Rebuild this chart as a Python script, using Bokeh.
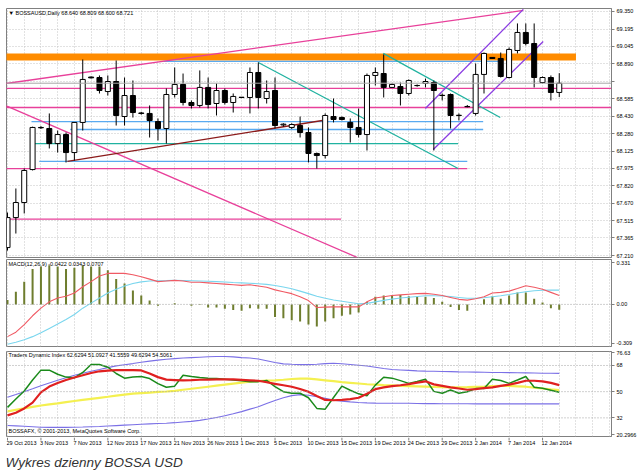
from bokeh.plotting import figure
from bokeh.layouts import column
from bokeh.models import (ColumnDataSource, LinearAxis, FixedTicker, Label, Range1d,
                          Span, Grid)
from bokeh.core.properties import value
from bokeh.embed import file_html
from bokeh.resources import INLINE

# ---------------- data ----------------
opens = [67.280, 67.543, 67.675, 67.964, 68.333, 68.324, 68.192, 68.271, 68.113, 68.377,
         68.775, 68.771, 68.648, 68.736, 68.429, 68.613, 68.460, 68.456, 68.385, 68.324,
         68.622, 68.710, 68.552, 68.526, 68.684, 68.543, 68.657, 68.552, 68.596, 68.596,
         68.815, 68.587, 68.657, 68.355, 68.333, 68.350, 68.289, 68.105, 68.087, 68.429,
         68.420, 68.377, 68.333, 68.271, 68.789, 68.806, 68.684, 68.692, 68.631, 68.700,
         68.719, 68.727, 68.615, 68.622, 68.438, 68.515, 68.456, 68.798, 68.947, 68.938,
         68.771, 69.008, 69.166, 69.069, 68.727, 68.771, 68.640]
highs = [67.587, 67.798, 67.973, 68.340, 68.345, 68.456, 68.306, 68.289, 68.377, 68.929,
         68.780, 68.789, 68.789, 68.920, 68.771, 68.745, 68.470, 68.526, 68.412, 68.675,
         68.859, 68.806, 68.570, 68.833, 68.771, 68.719, 68.675, 68.631, 68.600, 68.859,
         68.903, 68.745, 68.771, 68.370, 68.370, 68.429, 68.333, 68.113, 68.456, 68.587,
         68.430, 68.412, 68.499, 68.806, 68.859, 68.973, 68.720, 68.727, 68.754, 68.710,
         68.762, 68.745, 68.631, 68.631, 68.456, 68.530, 68.894, 68.990, 68.950, 68.990,
         69.034, 69.245, 69.245, 69.245, 68.780, 68.789, 68.809]
lows = [67.254, 67.403, 67.579, 67.956, 68.320, 68.149, 68.113, 68.026, 68.043, 68.306,
        68.762, 68.631, 68.613, 68.350, 68.350, 68.420, 68.445, 68.245, 68.219, 68.192,
        68.596, 68.526, 68.499, 68.508, 68.499, 68.438, 68.534, 68.464, 68.590, 68.456,
        68.499, 68.543, 68.324, 68.340, 68.320, 68.245, 68.026, 67.973, 68.061, 68.377,
        68.394, 68.201, 68.245, 68.131, 68.701, 68.596, 68.680, 68.526, 68.613, 68.690,
        68.684, 68.131, 68.570, 68.324, 68.394, 68.510, 68.438, 68.631, 68.935, 68.771,
        68.762, 68.982, 69.052, 68.684, 68.719, 68.570, 68.600]
closes = [67.543, 67.675, 67.956, 68.333, 68.330, 68.192, 68.271, 68.113, 68.377, 68.754,
          68.768, 68.657, 68.736, 68.438, 68.613, 68.464, 68.456, 68.394, 68.324, 68.622,
          68.710, 68.552, 68.526, 68.684, 68.534, 68.657, 68.552, 68.605, 68.598, 68.815,
          68.596, 68.648, 68.350, 68.362, 68.359, 68.289, 68.105, 68.087, 68.438, 68.403,
          68.403, 68.333, 68.271, 68.789, 68.815, 68.684, 68.710, 68.631, 68.745, 68.701,
          68.736, 68.657, 68.613, 68.438, 68.440, 68.517, 68.798, 68.982, 68.938, 68.780,
          69.017, 69.166, 69.069, 68.771, 68.771, 68.640, 68.721]

macd_hist = [0.035, 0.10, 0.18, 0.28, 0.30, 0.31, 0.30, 0.28, 0.29, 0.31,
             0.30, 0.30, 0.27, 0.20, 0.165, 0.11, 0.07, 0.03, -0.01, 0.0,
             0.01, 0.0, -0.01, -0.005, -0.025, -0.025, -0.035, -0.045, -0.05, -0.03,
             -0.035, -0.035, -0.10, -0.11, -0.125, -0.135, -0.16, -0.175, -0.135, -0.11,
             -0.09, -0.08, -0.065, 0.02, 0.06, 0.07, 0.075, 0.075, 0.065, 0.06,
             0.06, 0.05, 0.02, -0.02, -0.045, -0.05, 0.0, 0.04, 0.065, 0.045,
             0.07, 0.095, 0.095, 0.045, 0.015, -0.03, -0.0422]
macd_red = [-0.255, -0.22, -0.16, -0.09, -0.03, 0.02, 0.05, 0.065, 0.09, 0.14,
            0.18, 0.225, 0.245, 0.245, 0.245, 0.235, 0.218, 0.20, 0.18, 0.185,
            0.19, 0.185, 0.175, 0.175, 0.17, 0.165, 0.16, 0.155, 0.15, 0.155,
            0.145, 0.135, 0.115, 0.10, 0.085, 0.06, 0.03, -0.025, -0.022, -0.02,
            -0.02, -0.02, -0.02, 0.02, 0.05, 0.06, 0.07, 0.075, 0.08, 0.085,
            0.087, 0.08, 0.07, 0.055, 0.04, 0.034, 0.045, 0.06, 0.09, 0.095,
            0.105, 0.125, 0.147, 0.135, 0.12, 0.095, 0.07]
macd_cyan = [-0.315, -0.30, -0.28, -0.255, -0.225, -0.19, -0.155, -0.12, -0.08, -0.03,
             0.01, 0.05, 0.09, 0.12, 0.145, 0.165, 0.178, 0.185, 0.187, 0.188,
             0.19, 0.189, 0.187, 0.185, 0.183, 0.18, 0.177, 0.173, 0.17, 0.167,
             0.163, 0.158, 0.15, 0.138, 0.123, 0.105, 0.085, 0.065, 0.048, 0.035,
             0.025, 0.015, 0.005, 0.008, 0.02, 0.032, 0.042, 0.05, 0.057, 0.063,
             0.068, 0.068, 0.066, 0.062, 0.055, 0.048, 0.048, 0.052, 0.06, 0.068,
             0.078, 0.09, 0.10, 0.108, 0.112, 0.113, 0.113]

tdi_upper = [46.1, 48.0, 50.0, 52.0, 54.1, 56.0, 57.8, 59.5, 61.3, 62.7,
             64.0, 65.2, 66.5, 67.7, 68.5, 69.3, 70.2, 71.0, 71.7, 72.3,
             72.7, 73.1, 73.4, 73.7, 74.0, 74.2, 74.2, 73.9, 73.4, 73.1,
             72.5, 71.3, 70.0, 69.1, 68.8, 68.6, 68.6, 68.8, 69.3, 69.5,
             69.2, 68.7, 68.2, 67.6, 66.8, 65.9, 65.2, 64.9, 64.6, 64.3,
             64.1, 64.0, 63.9, 63.8, 63.6, 63.5, 63.4, 63.3, 63.2, 63.2,
             63.1, 63.0, 62.9, 62.8, 62.7, 62.7, 62.6]
tdi_lower = [26.8, 26.5, 26.2, 25.9, 25.6, 25.5, 25.5, 25.5, 25.6, 25.7,
             25.9, 26.1, 26.4, 26.7, 27.0, 27.3, 27.6, 27.9, 28.1, 28.3,
             28.7, 29.2, 29.6, 30.3, 31.2, 32.3, 33.5, 34.8, 36.3, 38.0,
             39.6, 41.8, 44.0, 45.8, 47.3, 48.0, 47.5, 46.6, 45.4, 44.2,
             43.5, 43.0, 42.6, 42.3, 42.1, 42.0, 42.0, 42.0, 42.0, 41.9,
             41.8, 41.8, 41.7, 41.7, 41.7, 41.7, 41.6, 41.6, 41.6, 41.6,
             41.6, 41.6, 41.6, 41.6, 41.6, 41.6, 41.6]
tdi_yellow = [36.5, 37.5, 38.5, 39.5, 40.5, 41.3, 42.0, 42.8, 43.6, 44.4,
              45.1, 45.8, 46.5, 47.3, 48.0, 48.6, 49.0, 49.4, 49.8, 50.1,
              50.6, 51.3, 52.0, 52.7, 53.4, 54.1, 54.8, 55.5, 56.2, 56.9,
              57.3, 57.6, 57.8, 58.2, 58.7, 59.0, 58.9, 58.4, 57.8, 57.2,
              56.6, 56.1, 55.6, 55.1, 54.8, 54.5, 54.3, 54.0, 53.8, 53.6,
              53.4, 53.2, 53.1, 53.0, 53.0, 53.1, 53.3, 53.5, 53.8, 54.0,
              54.0, 53.7, 53.4, 52.8, 52.2, 51.6, 51.1]
tdi_red = [33.7, 35.5, 38.5, 42.5, 49.5, 53.5, 56.0, 58.0, 59.7, 61.3,
           62.8, 64.0, 64.5, 64.8, 64.8, 64.8, 64.6, 62.5, 60.0, 58.3,
           58.0, 57.7, 57.9, 58.2, 58.3, 58.4, 58.5, 58.4, 58.1, 57.8,
           57.5, 56.5, 55.4, 54.4, 53.4, 51.8, 49.9, 47.0, 44.3, 44.1,
           44.4, 44.9, 45.8, 48.6, 51.7, 52.9, 53.8, 54.4, 55.2, 56.2,
           57.1, 55.0, 54.0, 53.0, 52.2, 51.3, 51.8, 52.5, 53.0, 54.0,
           54.8, 56.0, 57.5, 57.5, 57.1, 56.0, 54.5]
tdi_green = [39.2, 45.0, 50.5, 58.0, 64.8, 64.8, 62.0, 60.0, 59.5, 63.2,
             68.7, 68.7, 66.8, 62.5, 59.3, 60.0, 60.4, 59.0, 55.5, 53.0,
             53.8, 61.3, 60.5, 59.8, 59.3, 59.0, 58.5, 58.0, 57.5, 56.8,
             56.9, 57.7, 53.5, 50.0, 48.9, 48.9, 45.8, 38.5, 38.0, 46.0,
             53.8, 51.0, 48.5, 47.2, 54.5, 59.9, 59.3, 57.6, 55.7, 57.0,
             58.5, 50.2, 48.9, 51.1, 48.9, 50.0, 52.1, 52.1, 58.5, 57.7,
             55.7, 58.0, 60.4, 53.0, 52.3, 51.0, 49.6]

date_ticks = [0, 4, 8, 12, 16, 20, 24, 28, 32, 36, 40, 44, 48, 52, 56, 60, 64]
date_labels = ["29 Oct 2013", "3 Nov 2013", "7 Nov 2013", "12 Nov 2013", "17 Nov 2013",
               "21 Nov 2013", "26 Nov 2013", "1 Dec 2013", "5 Dec 2013", "10 Dec 2013",
               "15 Dec 2013", "19 Dec 2013", "24 Dec 2013", "29 Dec 2013", "2 Jan 2014",
               "7 Jan 2014", "12 Jan 2014"]
price_ticks = [69.350, 69.195, 69.045, 68.890, 68.740, 68.585, 68.430, 68.280, 68.125,
               67.975, 67.820, 67.670, 67.515, 67.365, 67.210]
price_labels = ["69.350", "69.195", "69.045", "68.890", "", "68.585", "68.430", "68.280",
                "68.125", "67.975", "67.820", "67.670", "67.515", "67.365", "67.210"]
macd_ticks = [0.331, 0.0, -0.309]
macd_labels = ["0.331", "0.00", "-0.309"]
tdi_ticks = [76.63, 68, 50, 32, 20.2966]
tdi_labels = ["76.63", "68", "50", "32", "20.2966"]
tdi_levels = [68, 50, 32]
last_price = 68.721
caption = "Wykres dzienny BOSSA USD"

# drawn chart objects (bar index, price)
pink_trends = [(-0.24, 68.718, 61.7, 69.359), (-0.24, 68.526, 41.85, 67.193)]
pink_hlines = [(68.675, -0.3, 72.4), (68.508, -0.3, 72.4), (67.53, -0.3, 39.9), (67.973, -0.3, 55.0)]
blue_hlines = [(68.385, 2.87, 56.9), (68.315, 7.5, 56.9), (68.035, 3.8, 55.0), (68.912, 18.65, 58.9)]
teal_hlines = [(68.192, 2.87, 53.9)]
teal_trends = [(30.0, 68.903, 53.9, 67.973), (44.95, 68.982, 58.94, 68.420)]
maroon_trends = [(7.17, 68.035, 37.66, 68.394)]
purple_trends = [(49.98, 68.499, 61.7, 69.368), (50.93, 68.140, 64.08, 69.087)]
orange_band = (68.920, 68.982, -0.3, 68.0)

# ---------------- helpers ----------------
FONT = "Liberation Sans"
FS = "5.5px"
GRID_C = "#c4c4c4"
xr = Range1d(-0.12, 72.25)
idx = list(range(len(opens)))


def make_fig(h, y0, y1, top, bottom, outline="#808080"):
    p = figure(width=640, height=h, x_range=xr, y_range=Range1d(y0, y1),
               output_backend="svg", toolbar_location=None,
               x_axis_location=None, y_axis_location=None,
               min_border_left=6, min_border_right=29,
               min_border_top=top, min_border_bottom=bottom,
               background_fill_color="white", border_fill_color="white",
               outline_line_color=outline, outline_line_width=1)
    for g in p.grid:
        g.visible = False
    return p


def vgrid(p):
    p.add_layout(Grid(dimension=0, ticker=FixedTicker(ticks=list(range(0, 73, 2))),
                      grid_line_color=GRID_C, grid_line_dash="1 2"))


def right_axis(p, ticks, labels):
    ax = LinearAxis(ticker=FixedTicker(ticks=ticks),
                    major_label_overrides={t: l for t, l in zip(ticks, labels)},
                    major_label_text_font=FONT, major_label_text_font_size=FS,
                    major_label_text_color="#000000", major_label_standoff=2,
                    major_tick_out=3, major_tick_in=0, minor_tick_out=0, minor_tick_in=0,
                    axis_line_color="#808080", major_tick_line_color="#808080")
    p.add_layout(ax, "right")


def header(p, x, y, text):
    p.add_layout(Label(x=x, y=y, text=text, x_offset=2, text_baseline="top",
                       text_font=FONT, text_font_size=FS, text_color="#000000"))


# ---------------- main price panel ----------------
p1 = make_fig(258, 67.193, 69.376, 8, 1)
vgrid(p1)
p1.add_layout(Grid(dimension=1, ticker=FixedTicker(ticks=price_ticks),
                   grid_line_color=GRID_C, grid_line_dash="1 2"))
right_axis(p1, price_ticks, price_labels)

p1.quad(left=[orange_band[2]], right=[orange_band[3]], bottom=[orange_band[0]],
        top=[orange_band[1]], fill_color="#ff8c00", line_color=None)


def hsegs(p, lst, color, width=1.3):
    p.segment(x0=[s[1] for s in lst], y0=[s[0] for s in lst],
              x1=[s[2] for s in lst], y1=[s[0] for s in lst],
              line_color=color, line_width=width)


def tsegs(p, lst, color, width=1.3):
    p.segment(x0=[s[0] for s in lst], y0=[s[1] for s in lst],
              x1=[s[2] for s in lst], y1=[s[3] for s in lst],
              line_color=color, line_width=width)


hsegs(p1, blue_hlines, "#5aaaf0")
hsegs(p1, teal_hlines, "#20b2a0")
hsegs(p1, pink_hlines, "#e8409a")
tsegs(p1, pink_trends, "#e8409a")
tsegs(p1, teal_trends, "#20b2a0")
tsegs(p1, maroon_trends, "#8b1a1a")
tsegs(p1, purple_trends, "#8a3be2")
p1.add_layout(Span(location=last_price, dimension="width", line_color="#a8a8a8", line_width=1))

src = ColumnDataSource(dict(
    x=idx, h=highs, l=lows,
    top=[max(o, c) for o, c in zip(opens, closes)],
    bot=[min(o, c) for o, c in zip(opens, closes)],
    fill=["white" if c >= o else "black" for o, c in zip(opens, closes)]))
p1.segment(x0="x", y0="l", x1="x", y1="h", source=src, line_color="black", line_width=1)
p1.vbar(x="x", top="top", bottom="bot", width=0.6, fill_color="fill",
        line_color="black", line_width=1, source=src)

header(p1, -0.12, 69.362, "\u25BC BOSSAUSD,Daily  68.640 68.809 68.600 68.721")
p1.add_layout(Label(x=72.25, y=last_price, text="68.721", x_offset=1, text_baseline="middle",
                    text_align="left", text_font=FONT, text_font_size=FS, text_color="white",
                    background_fill_color="black", padding=1))

# ---------------- MACD panel ----------------
p2 = make_fig(90, -0.333, 0.355, 1, 2)
vgrid(p2)
right_axis(p2, macd_ticks, macd_labels)
p2.add_layout(Span(location=0, dimension="width", line_color="#a0a0a0", line_dash="1 2"))
p2.vbar(x=idx, top=macd_hist, bottom=0, width=0.24, fill_color="#6e7d2e", line_color=None)
p2.line(idx, macd_cyan, line_color="#7ad6ee", line_width=1.1)
p2.line(idx, macd_red, line_color="#f05a64", line_width=1.1)
header(p2, -0.12, 0.347, "MACD(12,26,9) -0.0422 0.0343 0.0707")

# ---------------- TDI panel ----------------
p3 = make_fig(89, 19.2, 77.6, 3, 1)
vgrid(p3)
right_axis(p3, tdi_ticks, tdi_labels)
for lv in tdi_levels:
    p3.add_layout(Span(location=lv, dimension="width", line_color="#a0a0a0", line_dash="1 2"))
p3.line(idx, tdi_upper, line_color="#7b70e6", line_width=1.1)
p3.line(idx, tdi_lower, line_color="#7b70e6", line_width=1.1)
p3.line(idx, tdi_yellow, line_color="#f4f050", line_width=2.2)
p3.line(idx, tdi_green, line_color="#1a8a1a", line_width=1.5)
p3.line(idx, tdi_red, line_color="#e02020", line_width=2.2)
header(p3, -0.12, 77.0, "Traders Dynamic Index 62.6294 51.0927 41.5559 49.6294 54.5061")
p3.add_layout(Label(x=-0.12, y=20.6, text="BOSSAFX, \u00A9 2001-2013, MetaQuotes Software Corp.",
                    x_offset=2, text_baseline="bottom", text_font=FONT, text_font_size=FS,
                    text_color="#000000"))

# ---------------- date strip + caption (y in pixels from the bottom) ----------------
p4 = make_fig(35, 0, 35, 0, 0, outline=None)
p4.segment(x0=date_ticks, y0=[35] * len(date_ticks), x1=date_ticks, y1=[32] * len(date_ticks),
           line_color="#808080", line_width=1)
p4.text(x=date_ticks, y=[33] * len(date_ticks), text=date_labels, x_offset=-1,
        text_baseline="top", text_align="left", text_font=value(FONT),
        text_font_size="5.5px", text_color="#000000")
p4.text(x=[-0.12], y=[10], text=[caption], x_offset=-1, text_baseline="middle",
        text_align="left", text_font=value(FONT), text_font_size="13.5px",
        text_font_style="italic", text_color="#333333")

layout = column(p1, p2, p3, p4)
open("out.html", "w").write(file_html(layout, INLINE))
